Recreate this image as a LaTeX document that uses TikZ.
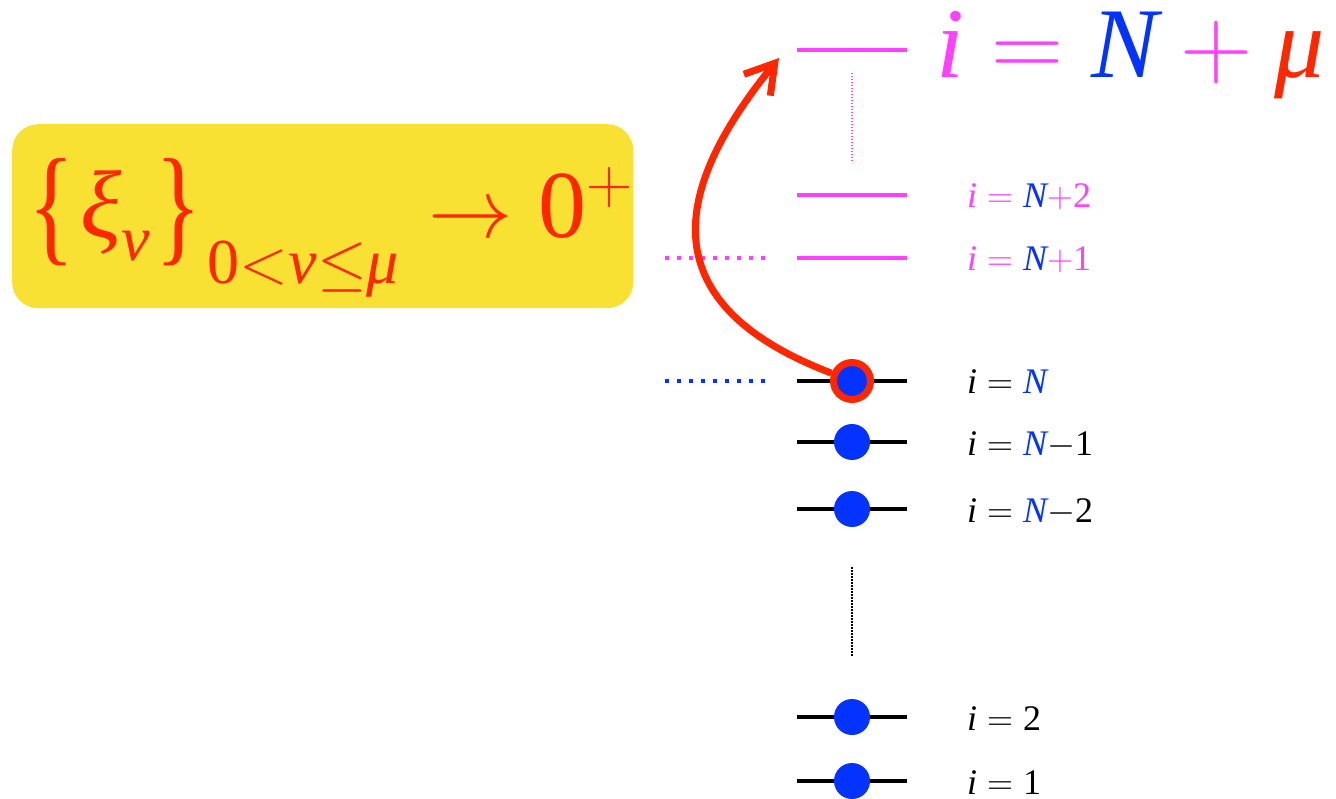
\documentclass[tikz,border=0pt]{standalone}
\usepackage{fix-cm}
\usepackage{fontspec}
\usepackage{graphicx}
\IfFontExistsTF{LiberationSerif-Regular.ttf}
  {\setmainfont{LiberationSerif}[Extension=.ttf,UprightFont=*-Regular,ItalicFont=*-Italic,
     BoldFont=*-Bold,BoldItalicFont=*-BoldItalic]}
  {\setmainfont{Liberation Serif}}
\usetikzlibrary{arrows.meta,positioning}
\definecolor{lvlmagenta}{RGB}{255,64,255}
\definecolor{lvlblue}{RGB}{4,51,255}
\definecolor{lvlred}{RGB}{255,38,0}
\definecolor{boxyellow}{RGB}{249,225,52}

\begin{document}
\begin{tikzpicture}[x=1pt,y=-1pt,
    level/.style={line width=3.5pt},
    occ/.style={circle,fill=lvlblue,inner sep=0pt,minimum size=36pt},
    lbl/.style={anchor=base west,inner sep=0pt,font=\fontsize{36}{40}\selectfont}]
  \useasboundingbox (0,0) rectangle (1336,799);
  % the box with the limit
  \node[fill=boxyellow,rounded corners=26pt,minimum width=621pt,minimum height=184pt,
        anchor=north west,inner sep=0pt] (limbox) at (12,124) {};
  \node[anchor=base west,inner sep=0pt,text=lvlred,font=\fontsize{96}{100}\selectfont] (limit) at (28,238)
    {\raisebox{-11pt}{\scalebox{1}[1.35]{\{}}\kern6pt\textit{ξ}\raisebox{-23pt}{\fontsize{64}{64}\selectfont\textit{ν}}\kern6pt\raisebox{-11pt}{\scalebox{1}[1.35]{\}}}\kern6pt\raisebox{-46pt}{\fontsize{64}{64}\selectfont 0{$<$}\textit{ν}{$\leq$}\textit{μ}}\hspace{30pt}{\fontsize{84}{84}\selectfont$\rightarrow$}\hspace{26pt}0\raisebox{34pt}{\fontsize{64}{64}\selectfont $+$}};
  % empty levels
  \draw[level,lvlmagenta] (797,50) -- (907,50);
  \draw[level,lvlmagenta] (797,195) -- (907,195);
  \draw[level,lvlmagenta] (797,258) -- (907,258);
  \draw[lvlmagenta,line width=2pt,dash pattern=on 1.5pt off 1.5pt] (852,73) -- (852,162);
  \draw[lvlmagenta,line width=4pt,dash pattern=on 4pt off 8pt] (665,258) -- (765,258);
  % occupied levels
  \foreach \y/\nm in {381/dN,442/dNa,509/dNb,717/dtwo,781/done}{
    \draw[level] (797,\y) -- (907,\y);
    \node[occ] (\nm) at (852,\y) {};
  }
  \node[occ,draw=lvlred,line width=7pt,minimum size=37pt] (dN) at (852,381) {};
  \draw[lvlblue,line width=4pt,dash pattern=on 4pt off 8pt] (665,381) -- (765,381);
  \draw[line width=2pt,dash pattern=on 1.5pt off 1.5pt] (852,567) -- (852,657);
  % labels
  \node[anchor=base west,inner sep=0pt,font=\fontsize{100}{104}\selectfont,text=lvlmagenta] (ltop) at (936,78)
    {$\textit{i} = \textcolor{lvlblue}{\textit{N}} + \textcolor{lvlred}{\textit{μ}}$};
  \node[lbl,text=lvlmagenta] (ltwo) at (967,208) {$\textit{i} = \textcolor{lvlblue}{\textit{N}}{+}\mbox{2}$};
  \node[lbl,text=lvlmagenta] (lone) at (967,271) {$\textit{i} = \textcolor{lvlblue}{\textit{N}}{+}\mbox{1}$};
  \node[lbl] (lN) at (967,394) {$\textit{i} = \textcolor{lvlblue}{\textit{N}}$};
  \node[lbl] (lNa) at (967,455) {$\textit{i} = \textcolor{lvlblue}{\textit{N}}{-}\mbox{1}$};
  \node[lbl] (lNb) at (967,522) {$\textit{i} = \textcolor{lvlblue}{\textit{N}}{-}\mbox{2}$};
  \node[lbl] (l2) at (967,730) {$\textit{i} = \mbox{2}$};
  \node[lbl] (l1) at (967,794) {$\textit{i} = \mbox{1}$};
  % excitation arrow
  \coordinate (tip) at (779,58);
  \draw[lvlred,line width=7pt,-{Straight Barb[length=28pt,width=34pt]}]
    (dN) .. controls (640,300) and (680,180) .. (tip);
\end{tikzpicture}
\end{document}
